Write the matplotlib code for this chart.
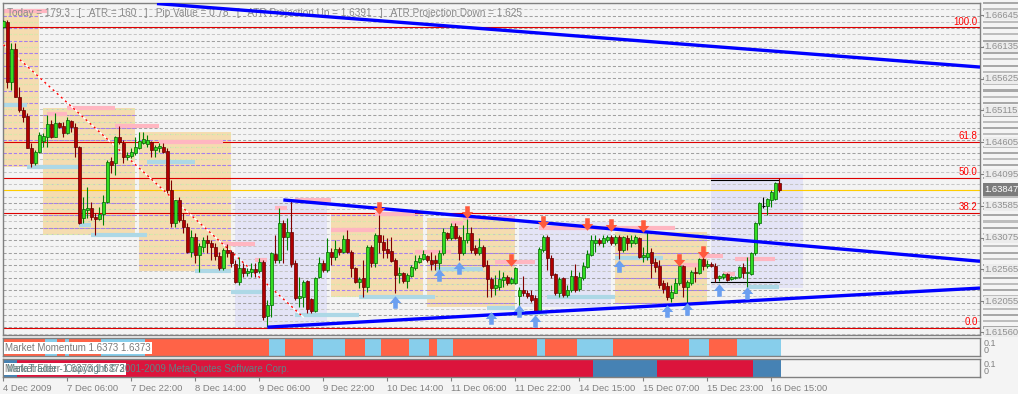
import matplotlib
matplotlib.use('Agg')
import matplotlib.pyplot as plt
import matplotlib.transforms as mtransforms
from matplotlib.patches import Rectangle
from matplotlib.path import Path
import numpy as np

# ---- H1 candles, 195 bars ----
opens = [1.6645, 1.6653, 1.6557, 1.6610, 1.6533, 1.6512, 1.6503, 1.6451, 1.6427, 1.6445,
         1.6463, 1.6469, 1.6490, 1.6469, 1.6491, 1.6487, 1.6475, 1.6495, 1.6485, 1.6453,
         1.6339, 1.6352, 1.6355, 1.6341, 1.6338, 1.6346, 1.6365, 1.6430, 1.6427, 1.6469,
         1.6459, 1.6437, 1.6438, 1.6443, 1.6451, 1.6459, 1.6458, 1.6461, 1.6448, 1.6451,
         1.6453, 1.6447, 1.6384, 1.6331, 1.6368, 1.6336, 1.6325, 1.6285, 1.6309, 1.6280,
         1.6293, 1.6304, 1.6299, 1.6293, 1.6278, 1.6259, 1.6288, 1.6285, 1.6265, 1.6236,
         1.6259, 1.6251, 1.6253, 1.6257, 1.6254, 1.6269, 1.6182, 1.6200, 1.6281, 1.6272,
         1.6331, 1.6309, 1.6317, 1.6267, 1.6211, 1.6212, 1.6238, 1.6209, 1.6190, 1.6245,
         1.6267, 1.6256, 1.6285, 1.6277, 1.6289, 1.6285, 1.6305, 1.6285, 1.6259, 1.6236,
         1.6243, 1.6228, 1.6293, 1.6267, 1.6312, 1.6301, 1.6289, 1.6286, 1.6272, 1.6248,
         1.6251, 1.6238, 1.6246, 1.6259, 1.6269, 1.6273, 1.6278, 1.6272, 1.6272, 1.6267,
         1.6283, 1.6315, 1.6307, 1.6326, 1.6309, 1.6283, 1.6304, 1.6315, 1.6291, 1.6283,
         1.6293, 1.6264, 1.6241, 1.6227, 1.6228, 1.6240, 1.6245, 1.6235, 1.6235, 1.6214,
         1.6224, 1.6219, 1.6216, 1.6211, 1.6188, 1.6288, 1.6309, 1.6275, 1.6249, 1.6219,
         1.6243, 1.6216, 1.6224, 1.6246, 1.6225, 1.6243, 1.6261, 1.6280, 1.6299, 1.6304,
         1.6299, 1.6304, 1.6309, 1.6299, 1.6309, 1.6288, 1.6307, 1.6299, 1.6299, 1.6307,
         1.6277, 1.6277, 1.6285, 1.6269, 1.6262, 1.6235, 1.6230, 1.6211, 1.6219, 1.6235,
         1.6262, 1.6228, 1.6235, 1.6253, 1.6251, 1.6273, 1.6262, 1.6265, 1.6262, 1.6243,
         1.6245, 1.6249, 1.6241, 1.6243, 1.6245, 1.6261, 1.6251, 1.6249, 1.6283, 1.6331,
         1.6358, 1.6358, 1.6368, 1.6370, 1.6395]
highs = [1.6657, 1.6657, 1.6620, 1.6620, 1.6549, 1.6517, 1.6508, 1.6459, 1.6448, 1.6477,
         1.6475, 1.6504, 1.6496, 1.6508, 1.6493, 1.6493, 1.6501, 1.6496, 1.6491, 1.6455,
         1.6373, 1.6389, 1.6365, 1.6347, 1.6357, 1.6376, 1.6432, 1.6437, 1.6471, 1.6487,
         1.6464, 1.6445, 1.6451, 1.6469, 1.6477, 1.6477, 1.6472, 1.6463, 1.6456, 1.6459,
         1.6459, 1.6451, 1.6400, 1.6368, 1.6373, 1.6347, 1.6331, 1.6320, 1.6315, 1.6299,
         1.6309, 1.6312, 1.6304, 1.6299, 1.6285, 1.6291, 1.6297, 1.6288, 1.6272, 1.6277,
         1.6267, 1.6259, 1.6267, 1.6267, 1.6275, 1.6272, 1.6208, 1.6285, 1.6312, 1.6355,
         1.6336, 1.6339, 1.6368, 1.6272, 1.6245, 1.6240, 1.6240, 1.6211, 1.6245, 1.6277,
         1.6272, 1.6307, 1.6291, 1.6304, 1.6293, 1.6312, 1.6320, 1.6288, 1.6261, 1.6245,
         1.6272, 1.6296, 1.6296, 1.6315, 1.6344, 1.6312, 1.6307, 1.6309, 1.6275, 1.6261,
         1.6253, 1.6251, 1.6264, 1.6280, 1.6280, 1.6288, 1.6280, 1.6285, 1.6280, 1.6288,
         1.6323, 1.6317, 1.6331, 1.6331, 1.6312, 1.6328, 1.6338, 1.6325, 1.6296, 1.6307,
         1.6296, 1.6272, 1.6245, 1.6248, 1.6256, 1.6253, 1.6248, 1.6245, 1.6261, 1.6228,
         1.6246, 1.6224, 1.6224, 1.6216, 1.6293, 1.6312, 1.6312, 1.6280, 1.6251, 1.6245,
         1.6245, 1.6232, 1.6256, 1.6265, 1.6253, 1.6269, 1.6288, 1.6312, 1.6312, 1.6307,
         1.6312, 1.6312, 1.6312, 1.6312, 1.6312, 1.6310, 1.6312, 1.6312, 1.6312, 1.6309,
         1.6293, 1.6317, 1.6291, 1.6275, 1.6272, 1.6240, 1.6236, 1.6232, 1.6243, 1.6265,
         1.6264, 1.6240, 1.6256, 1.6261, 1.6275, 1.6277, 1.6272, 1.6269, 1.6267, 1.6248,
         1.6251, 1.6251, 1.6246, 1.6246, 1.6262, 1.6267, 1.6277, 1.6285, 1.6333, 1.6365,
         1.6373, 1.6371, 1.6384, 1.6397, 1.6403]
lows = [1.6644, 1.6548, 1.6544, 1.6533, 1.6509, 1.6493, 1.6451, 1.6421, 1.6424, 1.6443,
        1.6453, 1.6453, 1.6467, 1.6469, 1.6483, 1.6469, 1.6474, 1.6477, 1.6437, 1.6330,
        1.6331, 1.6339, 1.6336, 1.6312, 1.6336, 1.6328, 1.6363, 1.6411, 1.6408, 1.6458,
        1.6427, 1.6432, 1.6435, 1.6440, 1.6450, 1.6458, 1.6453, 1.6437, 1.6437, 1.6445,
        1.6443, 1.6379, 1.6325, 1.6325, 1.6333, 1.6315, 1.6283, 1.6277, 1.6267, 1.6253,
        1.6285, 1.6283, 1.6272, 1.6272, 1.6256, 1.6256, 1.6277, 1.6261, 1.6235, 1.6232,
        1.6245, 1.6246, 1.6245, 1.6245, 1.6251, 1.6175, 1.6164, 1.6180, 1.6267, 1.6267,
        1.6267, 1.6288, 1.6261, 1.6208, 1.6196, 1.6196, 1.6187, 1.6187, 1.6188, 1.6243,
        1.6253, 1.6253, 1.6264, 1.6272, 1.6280, 1.6283, 1.6283, 1.6245, 1.6235, 1.6227,
        1.6212, 1.6220, 1.6261, 1.6261, 1.6283, 1.6275, 1.6275, 1.6269, 1.6219, 1.6235,
        1.6235, 1.6227, 1.6245, 1.6256, 1.6267, 1.6272, 1.6269, 1.6256, 1.6256, 1.6256,
        1.6280, 1.6304, 1.6304, 1.6305, 1.6272, 1.6280, 1.6299, 1.6283, 1.6280, 1.6280,
        1.6261, 1.6212, 1.6212, 1.6216, 1.6224, 1.6228, 1.6232, 1.6233, 1.6233, 1.6196,
        1.6214, 1.6211, 1.6204, 1.6187, 1.6187, 1.6285, 1.6256, 1.6243, 1.6216, 1.6212,
        1.6212, 1.6212, 1.6220, 1.6220, 1.6222, 1.6240, 1.6259, 1.6278, 1.6285, 1.6296,
        1.6293, 1.6301, 1.6296, 1.6296, 1.6273, 1.6285, 1.6288, 1.6293, 1.6297, 1.6275,
        1.6269, 1.6272, 1.6243, 1.6253, 1.6227, 1.6219, 1.6208, 1.6204, 1.6218, 1.6232,
        1.6212, 1.6200, 1.6232, 1.6236, 1.6250, 1.6256, 1.6259, 1.6261, 1.6236, 1.6238,
        1.6241, 1.6238, 1.6240, 1.6241, 1.6243, 1.6243, 1.6228, 1.6248, 1.6280, 1.6328,
        1.6355, 1.6344, 1.6357, 1.6368, 1.6381]
closes = [1.6655, 1.6557, 1.6610, 1.6533, 1.6512, 1.6501, 1.6451, 1.6427, 1.6445, 1.6472,
          1.6471, 1.6490, 1.6469, 1.6491, 1.6485, 1.6475, 1.6496, 1.6485, 1.6453, 1.6331,
          1.6354, 1.6355, 1.6341, 1.6338, 1.6346, 1.6365, 1.6429, 1.6424, 1.6469, 1.6461,
          1.6437, 1.6440, 1.6445, 1.6453, 1.6463, 1.6466, 1.6464, 1.6448, 1.6453, 1.6455,
          1.6445, 1.6384, 1.6331, 1.6368, 1.6336, 1.6325, 1.6285, 1.6309, 1.6280, 1.6294,
          1.6304, 1.6299, 1.6293, 1.6278, 1.6259, 1.6288, 1.6283, 1.6267, 1.6236, 1.6259,
          1.6251, 1.6254, 1.6257, 1.6253, 1.6269, 1.6180, 1.6200, 1.6283, 1.6272, 1.6331,
          1.6309, 1.6317, 1.6265, 1.6211, 1.6214, 1.6236, 1.6193, 1.6190, 1.6243, 1.6267,
          1.6256, 1.6285, 1.6277, 1.6289, 1.6285, 1.6305, 1.6285, 1.6259, 1.6236, 1.6241,
          1.6228, 1.6293, 1.6267, 1.6312, 1.6301, 1.6288, 1.6283, 1.6270, 1.6248, 1.6251,
          1.6238, 1.6248, 1.6261, 1.6270, 1.6275, 1.6281, 1.6272, 1.6265, 1.6267, 1.6283,
          1.6317, 1.6307, 1.6326, 1.6307, 1.6283, 1.6304, 1.6315, 1.6288, 1.6283, 1.6293,
          1.6262, 1.6241, 1.6227, 1.6232, 1.6241, 1.6245, 1.6235, 1.6241, 1.6259, 1.6224,
          1.6219, 1.6214, 1.6208, 1.6188, 1.6289, 1.6309, 1.6275, 1.6248, 1.6219, 1.6241,
          1.6216, 1.6224, 1.6246, 1.6224, 1.6245, 1.6262, 1.6281, 1.6304, 1.6304, 1.6299,
          1.6307, 1.6309, 1.6299, 1.6309, 1.6288, 1.6309, 1.6299, 1.6304, 1.6309, 1.6277,
          1.6280, 1.6283, 1.6267, 1.6261, 1.6232, 1.6225, 1.6212, 1.6220, 1.6235, 1.6262,
          1.6228, 1.6236, 1.6253, 1.6251, 1.6273, 1.6262, 1.6265, 1.6262, 1.6243, 1.6246,
          1.6249, 1.6240, 1.6245, 1.6245, 1.6261, 1.6251, 1.6253, 1.6283, 1.6331, 1.6363,
          1.6358, 1.6370, 1.6381, 1.6395, 1.63847]

# daily range boxes (first bar, last bar, top, bottom, fill)
day_start = [0, 10, 34, 58, 82, 106, 129, 153, 177]
day_end = [9, 33, 57, 81, 105, 128, 152, 176, 200]
day_top = [1.6674, 1.6516, 1.6477, 1.6370, 1.6347, 1.6339, 1.6333, 1.6317, 1.6410]
day_bottom = [1.6421, 1.6312, 1.6254, 1.6164, 1.6212, 1.6196, 1.6196, 1.6203, 1.6227]
day_kind = ['o', 'o', 'o', 'l', 'o', 'o', 'l', 'o', 'l']

# pink (resistance) and light blue (support) level segments
pink_from = [0, 11, 16, 28, 39, 55, 63, 68, 73, 82, 93, 103, 112, 115, 123, 134, 170, 174, 180, 183]
pink_to = [11, 16, 28, 39, 55, 63, 66, 71, 82, 93, 103, 112, 115, 128, 133, 168, 174, 180, 183, 193]
pink_lvl = [1.6671, 1.6506, 1.6516, 1.6487, 1.6461, 1.6297, 1.6272, 1.6355, 1.6368, 1.6320,
            1.6346, 1.6285, 1.6331, 1.6339, 1.6269, 1.6323, 1.6264, 1.6278, 1.6249, 1.6273]
blue_from = [0, 6, 19, 22, 36, 48, 57, 73, 89, 108, 121, 128, 136, 153, 186]
blue_to = [6, 19, 22, 36, 48, 57, 65, 89, 108, 120, 128, 136, 153, 165, 194]
blue_lvl = [1.6520, 1.6421, 1.6328, 1.6312, 1.6429, 1.6254, 1.6220, 1.6184, 1.6212, 1.6257,
            1.6195, 1.6187, 1.6212, 1.6275, 1.6228]

# signal arrows
sell_bars = [94, 116, 135, 127, 146, 152, 160, 169, 175]
sell_px = [1.6355, 1.6349, 1.6333, 1.6272, 1.6330, 1.6328, 1.6326, 1.6272, 1.6285]
buy_bars = [98, 109, 114, 122, 129, 133, 154, 166, 171, 179, 186]
buy_px = [1.6204, 1.6248, 1.6259, 1.6179, 1.6190, 1.6174, 1.6262, 1.6190, 1.6193, 1.6224, 1.6219]

# trend lines (two anchor points each, extended to the right)
trend_top = [(38.4, 1.6683), (194, 1.6606)]
trend_mid = [(70, 1.6368), (194, 1.6298)]
trend_low = [(66, 1.6164), (194, 1.6209)]
red_diag = [(0, 1.6617), (75, 1.6180)]

fib_low, fib_high = 1.6163, 1.6645
fib_levels = [0.0, 38.2, 50.0, 61.8, 100.0]
last_price = 1.63847
today_hi, today_lo = 1.6400, 1.6236

# momentum / elder bar states, run-length (state, count); 1 = blue
momentum_runs = [(0, 11), (1, 3), (0, 2), (1, 1), (0, 8), (1, 11), (0, 31), (1, 4), (0, 7),
                 (1, 8), (0, 5), (1, 4), (0, 7), (1, 5), (0, 2), (1, 4), (0, 21), (1, 2),
                 (0, 8), (1, 9), (0, 19), (1, 5), (0, 7), (1, 11)]
elder_runs = [(1, 4), (0, 144), (1, 16), (0, 24), (1, 7)]

tick_bars = [0, 16, 32, 48, 64, 80, 96, 112, 128, 144, 160, 176, 192]
tick_labels = ['4 Dec 2009', '7 Dec 06:00', '7 Dec 22:00', '8 Dec 14:00', '9 Dec 06:00',
               '9 Dec 22:00', '10 Dec 14:00', '11 Dec 06:00', '11 Dec 22:00',
               '14 Dec 15:00', '15 Dec 07:00', '15 Dec 23:00', '16 Dec 15:00']
price_ticks = [1.66645, 1.66135, 1.65625, 1.65115, 1.64605, 1.64095, 1.63585,
               1.63075, 1.62565, 1.62055, 1.61560]

W, H = 1018, 394
BG = '#f4f4f4'
GRAY = '#808080'
FONT = 'Liberation Sans'
plt.rcParams['font.family'] = [FONT, 'DejaVu Sans']

fig = plt.figure(figsize=(W / 100, H / 100), dpi=100, facecolor=BG)


def px_box(x0, y0, x1, y1):
    return [x0 / W, 1 - y1 / H, (x1 - x0) / W, (y1 - y0) / H]


XL = (-0.1, 244.2)
ax = fig.add_axes(px_box(3, 3, 980, 335))
ax_m = fig.add_axes(px_box(3, 338, 980, 356))
ax_e = fig.add_axes(px_box(3, 359, 980, 377))
for a in (ax, ax_m, ax_e):
    a.set_facecolor(BG)
    a.set_xlim(*XL)
    for s in a.spines.values():
        s.set_color(GRAY)
        s.set_linewidth(1)
    a.set_yticks([])
    a.set_xticks([])
ax.set_ylim(1.61514, 1.66839)

# day boxes
for s, e, t, b, k in zip(day_start, day_end, day_top, day_bottom, day_kind):
    fc = '#f5dcb0' if k == 'o' else '#e4e4f6'
    ax.add_patch(Rectangle((s, b), e - s, t - b, facecolor=fc, edgecolor='none', zorder=0.5))

# dense dashed level lines
levels = np.arange(1.66835, 1.6150, -0.0010)
for j, lv in enumerate(levels):
    dark = j % 2 == 0
    ax.axhline(lv, color='#a0a0a0' if dark else '#c6c6c6', lw=0.75,
               dashes=(3, 2), zorder=1)
    for s, e, t, b, k in zip(day_start, day_end, day_top, day_bottom, day_kind):
        if k == 'o' and b < lv < t:
            ax.plot([s, e], [lv, lv], color='#a77cf2' if dark else '#d9eaa8',
                    lw=0.75, dashes=(3, 2), zorder=1.2)

# fibonacci levels
trans_r = mtransforms.blended_transform_factory(ax.transAxes, ax.transData)
for f in fib_levels:
    lv = fib_low + (fib_high - fib_low) * f / 100
    ax.axhline(lv, color='#dd0000', lw=0.8, zorder=2)
    ax.text(0.9975, lv + 0.00012, '%.1f' % f, color='#ff0000', fontsize=7,
            ha='right', va='bottom', transform=trans_r, zorder=7)
ax.axhline(last_price, color='#ffcc00', lw=0.8, zorder=2)

# support / resistance segments
for a0, a1, lv in zip(pink_from, pink_to, pink_lvl):
    ax.plot([a0, a1], [lv, lv], color='#ffb6c1', lw=3, solid_capstyle='butt', zorder=2.5)
for a0, a1, lv in zip(blue_from, blue_to, blue_lvl):
    ax.plot([a0, a1], [lv, lv], color='#add8e6', lw=3, solid_capstyle='butt', zorder=2.5)

# today's range lines
ax.plot([177, 194], [today_hi, today_hi], color='black', lw=0.8, zorder=2.6)
ax.plot([177, 194], [today_lo, today_lo], color='black', lw=0.8, zorder=2.6)

# red dashed diagonal
(dx0, dy0), (dx1, dy1) = red_diag
ax.plot([dx0, dx1], [dy0, dy1], color='white', lw=1, zorder=2.7)
ax.plot([dx0, dx1], [dy0, dy1], color='#ff0000', lw=1, dashes=(1.5, 2.5), zorder=2.8)

# candles
x = np.arange(len(closes))
o = np.array(opens)
c = np.array(closes)
hi = np.array(highs)
lo = np.array(lows)
up = c > o
dn = c < o
wick_col = np.where(up, '#008000', np.where(dn, '#800000', '#000000'))
ax.vlines(x, lo, hi, colors=wick_col, lw=0.8, zorder=3)
body_h = np.maximum(np.abs(c - o), 0.00006)
ax.bar(x[up], body_h[up], bottom=o[up], width=0.72, color='#33dd22',
       edgecolor='#006400', linewidth=0.5, zorder=3.5)
ax.bar(x[dn], body_h[dn], bottom=c[dn], width=0.72, color='#b00000',
       edgecolor='#600000', linewidth=0.5, zorder=3.5)
dj = ~(up | dn)
ax.hlines(c[dj], x[dj] - 0.4, x[dj] + 0.4, colors='black', lw=0.8, zorder=3.5)

# blue trend lines, extended to the right edge
for (x0, y0), (x1, y1) in (trend_top, trend_mid, trend_low):
    k = (y1 - y0) / (x1 - x0)
    ax.plot([x0, XL[1]], [y0, y0 + k * (XL[1] - x0)], color='#0000ff', lw=2.4,
            solid_capstyle='butt', zorder=4)

# arrows
down_arrow = Path([(-0.22, 0.6), (0.22, 0.6), (0.22, 0.05), (0.55, 0.05), (0, -0.6),
                   (-0.55, 0.05), (-0.22, 0.05), (-0.22, 0.6)], closed=True)
up_arrow = Path([(vx, -vy) for vx, vy in down_arrow.vertices], closed=True)
ax.plot(sell_bars, sell_px, linestyle='none', marker=down_arrow, markersize=9,
        color='#ff5a3c', markeredgewidth=0, zorder=5)
ax.plot(buy_bars, buy_px, linestyle='none', marker=up_arrow, markersize=9,
        color='#6b9ff0', markeredgewidth=0, zorder=5)

# header text
ax.text(0.004, 0.985,
        'Today = 179.3   [   ATR = 160   ]   Pip Value = 0.78   [   ATR Projection Up = 1.6391   ]   ATR Projection Down = 1.625',
        transform=ax.transAxes, fontsize=7.2, color='#8a8a8a', va='top', ha='left', zorder=3.9)

# price scale on the right
for j, lv in enumerate(levels):
    ax.add_patch(Rectangle((1.003, lv - 0.00017), 0.036, 0.00034, transform=trans_r,
                           facecolor='#a8a8a8' if j % 2 == 0 else '#bdbdbd',
                           edgecolor='none', clip_on=False, zorder=1))
for p in price_ticks:
    ax.text(1.0045, p, '%.5f' % p, transform=trans_r, fontsize=6.8, color='#909090',
            va='center', ha='left', clip_on=False, zorder=3,
            bbox=dict(facecolor='#ececec', edgecolor='none', pad=0.4))
    ax.plot([1.0, 1.003], [p, p], transform=trans_r, color=GRAY, lw=0.8, clip_on=False)
ax.text(1.0045, last_price, '%.5f' % last_price, transform=trans_r, fontsize=6.8,
        color='white', va='center', ha='left', clip_on=False, zorder=4,
        bbox=dict(facecolor='#7c7c7c', edgecolor='none', pad=1.2))


def expand(runs):
    out = []
    for state, n in runs:
        out += [state] * n
    return np.array(out)


mom = expand(momentum_runs)
eld = expand(elder_runs)
ax_m.bar(x, np.ones(len(x)), width=1.0, color=np.where(mom == 1, '#87ceeb', '#ff6347'),
         linewidth=0)
ax_m.set_ylim(0, 1)
ax_e.bar(x, np.ones(len(x)), width=1.0, color=np.where(eld == 1, '#4682b4', '#dc143c'),
         linewidth=0)
ax_e.set_ylim(0, 1)

ax_m.text(0.002, 0.45, 'Market Momentum 1.6373 1.6373', transform=ax_m.transAxes,
          fontsize=7, color='#7a7a7a', va='center', ha='left',
          bbox=dict(facecolor='white', edgecolor='none', pad=1.0))
ax_e.text(0.002, 0.45, 'Market Elder 1.6373 1.6373', transform=ax_e.transAxes,
          fontsize=7, color='#7a7a7a', va='center', ha='left',
          bbox=dict(facecolor='white', edgecolor='none', pad=1.0))
ax_e.text(0.004, 0.45, 'MetaTrader - Copyright \u00a9 2001-2009 MetaQuotes Software Corp.',
          transform=ax_e.transAxes, fontsize=7, color='#5f8285', va='center', ha='left')
for a in (ax_m, ax_e):
    a.text(1.004, 0.72, '0.1', transform=a.transAxes, fontsize=6.5, color=GRAY,
           va='center', ha='left')
    a.text(1.004, 0.3, '0', transform=a.transAxes, fontsize=6.5, color=GRAY,
           va='center', ha='left')

ax_e.set_xticks(tick_bars)
ax_e.set_xticklabels(tick_labels, ha='left', fontsize=6.8, color=GRAY)
ax_e.tick_params(axis='x', direction='out', length=3, color=GRAY, pad=2)

fig.savefig('out.png', dpi=100, facecolor=BG)
